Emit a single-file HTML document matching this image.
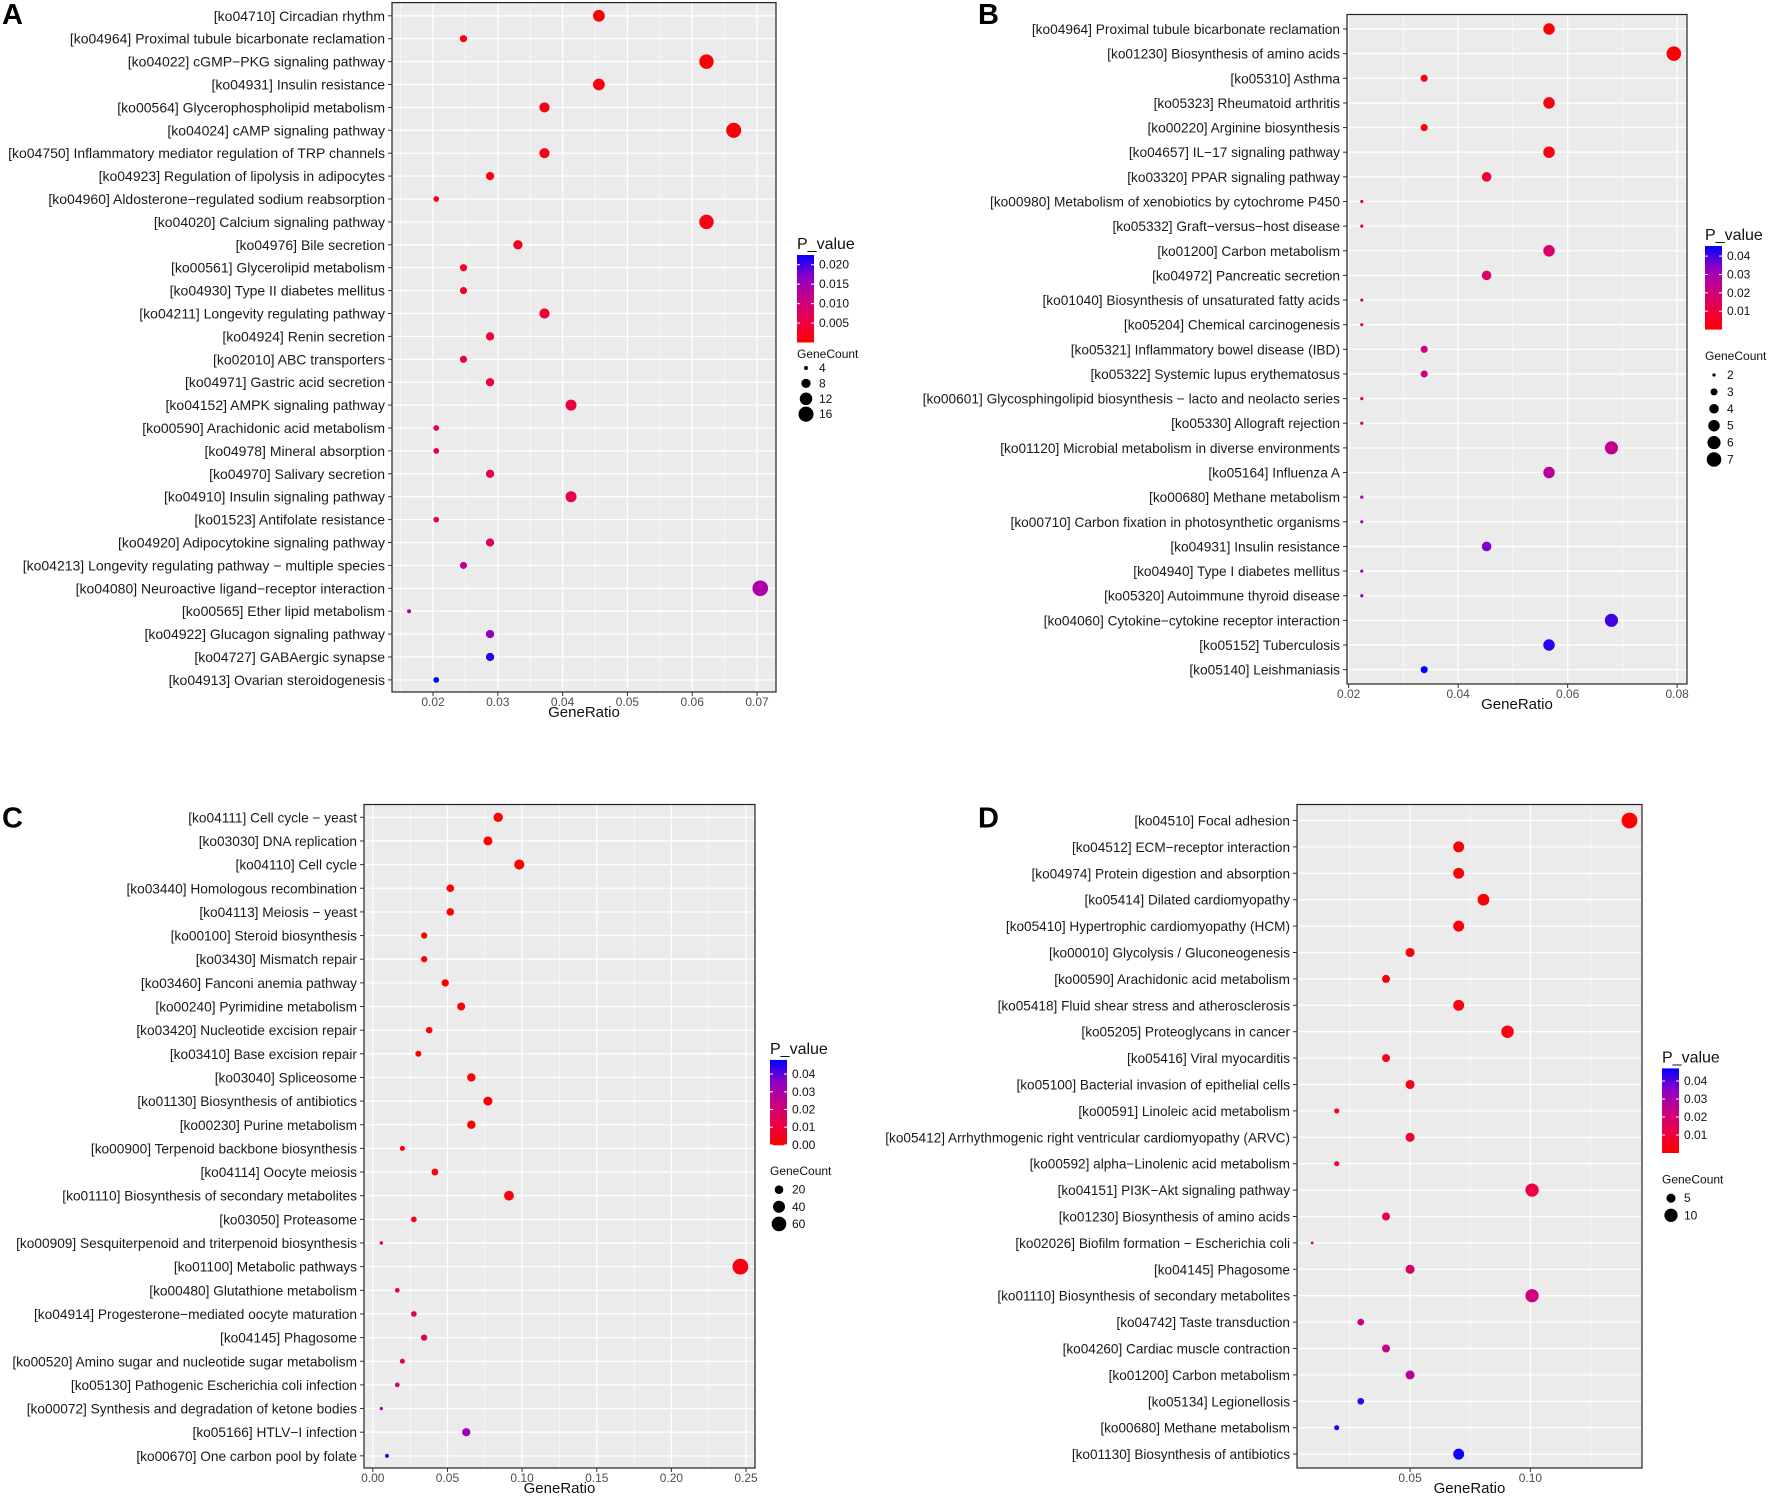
<!DOCTYPE html>
<html><head><meta charset="utf-8">
<style>
html,body{margin:0;padding:0;background:#fff;overflow:hidden;}
svg{display:block;font-family:"Liberation Sans",Arial,sans-serif;}
</style></head>
<body>
<svg id="fig" width="1772" height="1498" viewBox="0 0 1772 1498" xmlns="http://www.w3.org/2000/svg">
<defs>
<linearGradient id="pg" x1="0" y1="1" x2="0" y2="0">
<stop offset="0" stop-color="#ff0000"/><stop offset="0.25" stop-color="#eb0046"/><stop offset="0.5" stop-color="#c80087"/><stop offset="0.75" stop-color="#8c00c8"/><stop offset="1" stop-color="#0000ff"/>
</linearGradient>
</defs>
</svg>
<script>
// ---------- Panel A data ----------
const aTerms=["[ko04710] Circadian rhythm","[ko04964] Proximal tubule bicarbonate reclamation","[ko04022] cGMP\u2212PKG signaling pathway","[ko04931] Insulin resistance","[ko00564] Glycerophospholipid metabolism","[ko04024] cAMP signaling pathway","[ko04750] Inflammatory mediator regulation of TRP channels","[ko04923] Regulation of lipolysis in adipocytes","[ko04960] Aldosterone\u2212regulated sodium reabsorption","[ko04020] Calcium signaling pathway","[ko04976] Bile secretion","[ko00561] Glycerolipid metabolism","[ko04930] Type II diabetes mellitus","[ko04211] Longevity regulating pathway","[ko04924] Renin secretion","[ko02010] ABC transporters","[ko04971] Gastric acid secretion","[ko04152] AMPK signaling pathway","[ko00590] Arachidonic acid metabolism","[ko04978] Mineral absorption","[ko04970] Salivary secretion","[ko04910] Insulin signaling pathway","[ko01523] Antifolate resistance","[ko04920] Adipocytokine signaling pathway","[ko04213] Longevity regulating pathway \u2212 multiple species","[ko04080] Neuroactive ligand\u2212receptor interaction","[ko00565] Ether lipid metabolism","[ko04922] Glucagon signaling pathway","[ko04727] GABAergic synapse","[ko04913] Ovarian steroidogenesis"];
const aRatio=[0.0456,0.0247,0.0622,0.0456,0.0372,0.0664,0.0372,0.0288,0.0205,0.0622,0.0331,0.0247,0.0247,0.0372,0.0288,0.0247,0.0288,0.0413,0.0205,0.0205,0.0288,0.0413,0.0205,0.0288,0.0247,0.0705,0.0163,0.0288,0.0288,0.0205];
const aCount=[11,6,15,11,9,16,9,7,5,15,8,6,6,9,7,6,7,10,5,5,7,10,5,7,6,17,4,7,7,5];
const aP=[0.0005,0.001,0.0008,0.001,0.0015,0.001,0.0015,0.002,0.0025,0.0015,0.003,0.0035,0.0035,0.004,0.0045,0.0045,0.005,0.0055,0.006,0.006,0.0065,0.0065,0.007,0.008,0.012,0.014,0.014,0.016,0.021,0.0225];
const aTicks=[0.02,0.03,0.04,0.05,0.06,0.07];
const aTickLabels=["0.02","0.03","0.04","0.05","0.06","0.07"];
const aPBreaks=[0.005,0.010,0.015,0.020];
const aPLabels=["0.005","0.010","0.015","0.020"];
const aSizeBreaks=[4,8,12,16];

// ---------- Panel B data ----------
const bTerms=["[ko04964] Proximal tubule bicarbonate reclamation","[ko01230] Biosynthesis of amino acids","[ko05310] Asthma","[ko05323] Rheumatoid arthritis","[ko00220] Arginine biosynthesis","[ko04657] IL\u221217 signaling pathway","[ko03320] PPAR signaling pathway","[ko00980] Metabolism of xenobiotics by cytochrome P450","[ko05332] Graft\u2212versus\u2212host disease","[ko01200] Carbon metabolism","[ko04972] Pancreatic secretion","[ko01040] Biosynthesis of unsaturated fatty acids","[ko05204] Chemical carcinogenesis","[ko05321] Inflammatory bowel disease (IBD)","[ko05322] Systemic lupus erythematosus","[ko00601] Glycosphingolipid biosynthesis \u2212 lacto and neolacto series","[ko05330] Allograft rejection","[ko01120] Microbial metabolism in diverse environments","[ko05164] Influenza A","[ko00680] Methane metabolism","[ko00710] Carbon fixation in photosynthetic organisms","[ko04931] Insulin resistance","[ko04940] Type I diabetes mellitus","[ko05320] Autoimmune thyroid disease","[ko04060] Cytokine\u2212cytokine receptor interaction","[ko05152] Tuberculosis","[ko05140] Leishmaniasis"];
const bRatio=[0.0566,0.0794,0.0338,0.0566,0.0338,0.0566,0.0452,0.0224,0.0224,0.0566,0.0452,0.0224,0.0224,0.0338,0.0338,0.0224,0.0224,0.068,0.0566,0.0224,0.0224,0.0452,0.0224,0.0224,0.068,0.0566,0.0338];
const bCount=[5,7,3,5,3,5,4,2,2,5,4,2,2,3,3,2,2,6,5,2,2,4,2,2,6,5,3];
const bP=[0.0005,0.0005,0.002,0.002,0.0025,0.003,0.008,0.013,0.013,0.018,0.017,0.014,0.015,0.02,0.021,0.017,0.018,0.024,0.026,0.03,0.031,0.035,0.034,0.035,0.04,0.042,0.045];
const bTicks=[0.02,0.04,0.06,0.08];
const bTickLabels=["0.02","0.04","0.06","0.08"];
const bPBreaks=[0.01,0.02,0.03,0.04];
const bPLabels=["0.01","0.02","0.03","0.04"];
const bSizeBreaks=[2,3,4,5,6,7];

// ---------- Panel C data ----------
const cTerms=["[ko04111] Cell cycle \u2212 yeast","[ko03030] DNA replication","[ko04110] Cell cycle","[ko03440] Homologous recombination","[ko04113] Meiosis \u2212 yeast","[ko00100] Steroid biosynthesis","[ko03430] Mismatch repair","[ko03460] Fanconi anemia pathway","[ko00240] Pyrimidine metabolism","[ko03420] Nucleotide excision repair","[ko03410] Base excision repair","[ko03040] Spliceosome","[ko01130] Biosynthesis of antibiotics","[ko00230] Purine metabolism","[ko00900] Terpenoid backbone biosynthesis","[ko04114] Oocyte meiosis","[ko01110] Biosynthesis of secondary metabolites","[ko03050] Proteasome","[ko00909] Sesquiterpenoid and triterpenoid biosynthesis","[ko01100] Metabolic pathways","[ko00480] Glutathione metabolism","[ko04914] Progesterone\u2212mediated oocyte maturation","[ko04145] Phagosome","[ko00520] Amino sugar and nucleotide sugar metabolism","[ko05130] Pathogenic Escherichia coli infection","[ko00072] Synthesis and degradation of ketone bodies","[ko05166] HTLV\u2212I infection","[ko00670] One carbon pool by folate"];
const cRatio=[0.084,0.0771,0.0981,0.0519,0.0519,0.0344,0.0344,0.0485,0.0592,0.0378,0.0305,0.066,0.0771,0.066,0.0198,0.0416,0.0912,0.0275,0.0057,0.2462,0.0164,0.0275,0.0344,0.0198,0.0164,0.0057,0.0626,0.0095];
const cCount=[24,22,28,15,15,10,10,14,17,11,9,19,22,19,6,12,26,8,2,70,5,8,10,6,5,2,18,3];
const cP=[0,0,0,0,0,0,0,0,0,0.0005,0.0005,0.0005,0.001,0.001,0.002,0.002,0.002,0.003,0.005,0.003,0.012,0.013,0.015,0.018,0.019,0.028,0.033,0.045];
const cTicks=[0,0.05,0.10,0.15,0.20,0.25];
const cTickLabels=["0.00","0.05","0.10","0.15","0.20","0.25"];
const cPBreaks=[0,0.01,0.02,0.03,0.04];
const cPLabels=["0.00","0.01","0.02","0.03","0.04"];
const cSizeBreaks=[20,40,60];

// ---------- Panel D data ----------
const dTerms=["[ko04510] Focal adhesion","[ko04512] ECM\u2212receptor interaction","[ko04974] Protein digestion and absorption","[ko05414] Dilated cardiomyopathy","[ko05410] Hypertrophic cardiomyopathy (HCM)","[ko00010] Glycolysis / Gluconeogenesis","[ko00590] Arachidonic acid metabolism","[ko05418] Fluid shear stress and atherosclerosis","[ko05205] Proteoglycans in cancer","[ko05416] Viral myocarditis","[ko05100] Bacterial invasion of epithelial cells","[ko00591] Linoleic acid metabolism","[ko05412] Arrhythmogenic right ventricular cardiomyopathy (ARVC)","[ko00592] alpha\u2212Linolenic acid metabolism","[ko04151] PI3K\u2212Akt signaling pathway","[ko01230] Biosynthesis of amino acids","[ko02026] Biofilm formation \u2212 Escherichia coli","[ko04145] Phagosome","[ko01110] Biosynthesis of secondary metabolites","[ko04742] Taste transduction","[ko04260] Cardiac muscle contraction","[ko01200] Carbon metabolism","[ko05134] Legionellosis","[ko00680] Methane metabolism","[ko01130] Biosynthesis of antibiotics"];
const dRatio=[0.1412,0.0702,0.0702,0.0805,0.0702,0.05,0.04,0.0702,0.0905,0.04,0.05,0.0195,0.05,0.0195,0.1007,0.04,0.0093,0.05,0.1007,0.0295,0.04,0.05,0.0295,0.0195,0.0702];
const dCount=[14,7,7,8,7,5,4,7,9,4,5,2,5,2,10,4,1,5,10,3,4,5,3,2,7];
const dP=[0.0005,0.0005,0.0005,0.0005,0.001,0.001,0.0015,0.002,0.003,0.004,0.005,0.006,0.007,0.008,0.011,0.013,0.015,0.018,0.021,0.023,0.024,0.027,0.042,0.044,0.046];
const dTicks=[0.05,0.10];
const dTickLabels=["0.05","0.10"];
const dPBreaks=[0.01,0.02,0.03,0.04];
const dPLabels=["0.01","0.02","0.03","0.04"];
const dSizeBreaks=[5,10];

const NS="http://www.w3.org/2000/svg";
const svg=document.getElementById('fig');
function mk(tag,attrs,parent,text){const e=document.createElementNS(NS,tag);for(const k in attrs)e.setAttribute(k,attrs[k]);if(text!==undefined)e.textContent=text;(parent||svg).appendChild(e);return e;}
const stops=[[0,[255,0,0]],[0.25,[235,0,70]],[0.5,[200,0,135]],[0.75,[140,0,200]],[1,[0,0,255]]];
function colorAt(t){t=Math.max(0,Math.min(1,t));for(let i=1;i<stops.length;i++){if(t<=stops[i][0]){const a=stops[i-1],b=stops[i];const f=(t-a[0])/(b[0]-a[0]);const c=a[1].map((v,j)=>Math.round(v+(b[1][j]-v)*f));return 'rgb('+c.join(',')+')';}}return 'rgb(0,0,255)';}

function panel(cfg,terms,ratio,count,pv,ticks,tickLabels,pBreaks,pLabels,sizeBreaks){
  const g=mk('g',{});
  
  
  const L=cfg.left,R=cfg.right,T=cfg.top,B=cfg.bottom;
  const xs=v=>L+(v-cfg.xd[0])/(cfg.xd[1]-cfg.xd[0])*(R-L);
  const ys=i=>cfg.y0+i*cfg.ystep;
  const rs=c=>Math.sqrt(cfg.r0*cfg.r0+(c-cfg.c0)/(cfg.c1-cfg.c0)*(cfg.r1*cfg.r1-cfg.r0*cfg.r0));
  const cs=p=>colorAt((p-cfg.pd[0])/(cfg.pd[1]-cfg.pd[0]));
  const lt=mk('text',{x:cfg.lx,y:cfg.ly,'font-size':29,'font-weight':'bold',fill:'#000'},g,cfg.id);
  
  
  const bg=mk('rect',{x:L,y:T,width:R-L,height:B-T,fill:'#ebebeb'},g);
  
  
  for(let i=0;i<=ticks.length;i++){
    const step=ticks.length>1?ticks[1]-ticks[0]:0.05;
    const v=(i<ticks.length?ticks[i]:ticks[ticks.length-1]+step)-step/2;
    if(v>cfg.xd[0]&&v<cfg.xd[1]){const x=xs(v);const ln=mk('line',{x1:x,x2:x,y1:T,y2:B,stroke:'#fff','stroke-width':0.6},g);
      
      }
  }
  ticks.forEach((v,i)=>{const x=xs(v);const ln=mk('line',{x1:x,x2:x,y1:T,y2:B,stroke:'#fff','stroke-width':1.3},g);
    
    
    const tk=mk('line',{x1:x,x2:x,y1:B,y2:B+4,stroke:'#333','stroke-width':1},g);
    
    
    const tl=mk('text',{x:x,y:B+14,'font-size':12,fill:'#4d4d4d','text-anchor':'middle'},g,tickLabels[i]);
    
    });
  terms.forEach((t,i)=>{const y=ys(i);
    const ln=mk('line',{x1:L,x2:R,y1:y,y2:y,stroke:'#fff','stroke-width':1.3},g);
    
    
    const tk=mk('line',{x1:L-4,x2:L,y1:y,y2:y,stroke:'#333','stroke-width':1},g);
    
    
    const tl=mk('text',{x:L-7,y:y+5,'font-size':cfg.fs,fill:'#1a1a1a','text-anchor':'end'},g,t);
    
    });
  terms.forEach((t,i)=>{const c=mk('circle',{cx:xs(ratio[i]),cy:ys(i),r:rs(count[i]),fill:cs(pv[i])},g);
    
    });
  const br=mk('rect',{x:L,y:T,width:R-L,height:B-T,fill:'none',stroke:'#222','stroke-width':1.2},g);
  
  
  const xt=mk('text',{x:(L+R)/2,y:B+25,'font-size':15,fill:'#111','text-anchor':'middle'},g,'GeneRatio');
  
  
  const lg=cfg.lg;
  const pt=mk('text',{x:lg.x,y:lg.barTop-6,'font-size':16,fill:'#111'},g,'P_value');
  
  
  const bar=mk('rect',{x:lg.x,y:lg.barTop,width:17,height:lg.barBot-lg.barTop,fill:'url(#pg)'},g);
  
  
  const py=p=>lg.barBot-(p-cfg.pd[0])/(cfg.pd[1]-cfg.pd[0])*(lg.barBot-lg.barTop);
  pBreaks.forEach((p,i)=>{const y=py(p);
    mk('line',{x1:lg.x,x2:lg.x+3,y1:y,y2:y,stroke:'#fff','stroke-width':1},g);
    mk('line',{x1:lg.x+14,x2:lg.x+17,y1:y,y2:y,stroke:'#fff','stroke-width':1},g);
    const tl=mk('text',{x:lg.x+22,y:y+4,'font-size':12,fill:'#111'},g,pLabels[i]);
    
    });
  const gt=mk('text',{x:lg.x,y:lg.gcTitle,'font-size':12,fill:'#111'},g,'GeneCount');
  
  
  sizeBreaks.forEach((c,i)=>{const y=lg.gc0+i*lg.gcStep;
    const d=mk('circle',{cx:lg.x+9,cy:y,r:rs(c),fill:'#000'},g);
    
    
    const tl=mk('text',{x:lg.x+22,y:y+4,'font-size':12,fill:'#111'},g,String(c));
    
    });
}

panel({id:'A',lx:2,ly:24,left:392,right:776,top:2.6,bottom:692,xd:[0.01367,0.07293],y0:15.8,ystep:22.9,fs:14,
  r0:2.0,c0:4,r1:7.8,c1:17,pd:[0,0.0225],
  lg:{x:797,barTop:255,barBot:342.5,gcTitle:358,gc0:368,gcStep:15.4}},aTerms,aRatio,aCount,aP,aTicks,aTickLabels,aPBreaks,aPLabels,aSizeBreaks);
panel({id:'B',lx:978,ly:24,left:1347,right:1687,top:14.5,bottom:684,xd:[0.0197,0.0818],y0:29,ystep:24.64,fs:13.7,
  r0:1.6,c0:2,r1:7.3,c1:7,pd:[0,0.0455],
  lg:{x:1705,barTop:246,barBot:329.6,gcTitle:360,gc0:375,gcStep:16.9}},bTerms,bRatio,bCount,bP,bTicks,bTickLabels,bPBreaks,bPLabels,bSizeBreaks);
panel({id:'C',lx:2,ly:827.6,left:364,right:755,top:804.5,bottom:1468,xd:[-0.0059,0.256],y0:817.3,ystep:23.65,fs:13.7,
  r0:1.7,c0:2,r1:7.9,c1:70,pd:[-0.0002,0.048],
  lg:{x:770,barTop:1059.9,barBot:1145.3,gcTitle:1175,gc0:1189.7,gcStep:17.1}},cTerms,cRatio,cCount,cP,cTicks,cTickLabels,cPBreaks,cPLabels,cSizeBreaks);
panel({id:'D',lx:978,ly:827.6,left:1297,right:1642,top:804.5,bottom:1468,xd:[0.003,0.1464],y0:820.5,ystep:26.4,fs:13.6,
  r0:1.4,c0:1,r1:7.9,c1:14,pd:[0,0.047],
  lg:{x:1662,barTop:1068.4,barBot:1153,gcTitle:1183.7,gc0:1198.2,gcStep:17.1}},dTerms,dRatio,dCount,dP,dTicks,dTickLabels,dPBreaks,dPLabels,dSizeBreaks);
</script>
</body></html>
